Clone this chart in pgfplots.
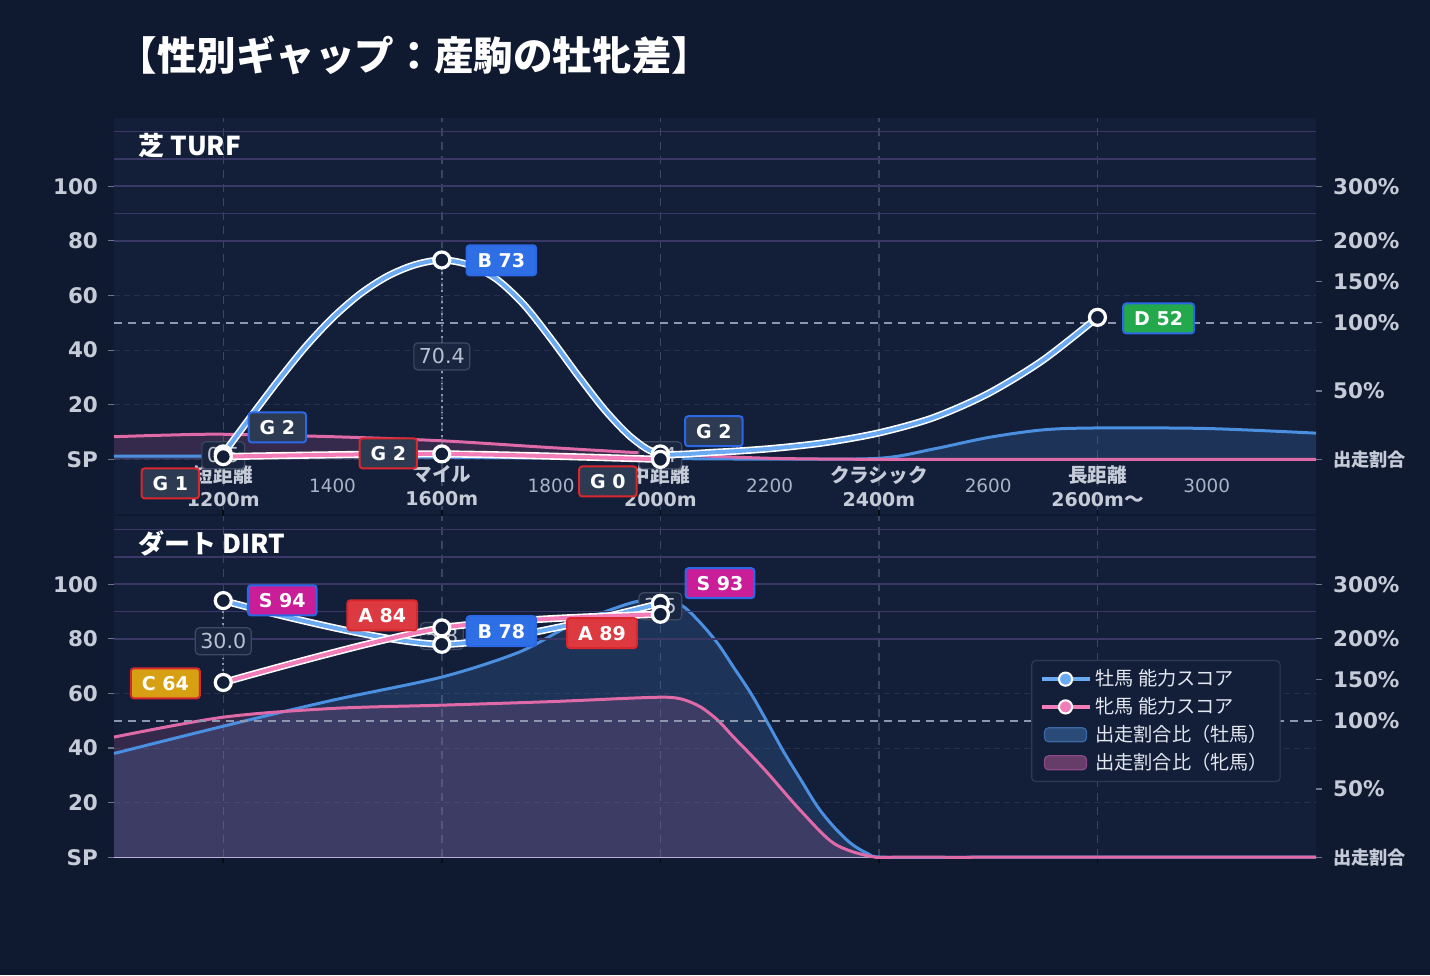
\documentclass[border=0pt]{standalone}
\usepackage{pgfplots}
\pgfplotsset{compat=1.18}
\usepackage{fontspec}
\setmainfont{Noto Sans CJK JP}
\newfontfamily\dv{DejaVu Sans}

\definecolor{pagebg}{HTML}{0F1930}
\definecolor{panelbg}{HTML}{131E39}
\definecolor{gridc}{HTML}{25314B}
\definecolor{purp}{HTML}{3A3866}
\definecolor{vgrid}{HTML}{3A4660}
\definecolor{dashc}{HTML}{8C96AC}
\definecolor{tickc}{HTML}{C5CCD8}
\definecolor{xlabc}{HTML}{AAB4C6}
\definecolor{tickm}{HTML}{6B768C}
\definecolor{mline}{HTML}{4A8FE0}
\definecolor{fline}{HTML}{E06AA8}
\definecolor{mscore}{HTML}{6AAAF2}
\definecolor{fscore}{HTML}{F27DB8}
\definecolor{mborder}{HTML}{2B68E6}
\definecolor{fborder}{HTML}{D8282E}
\definecolor{rS}{HTML}{C91E98}
\definecolor{rA}{HTML}{DC3A40}
\definecolor{rB}{HTML}{2F6FE6}
\definecolor{rC}{HTML}{D6A012}
\definecolor{rD}{HTML}{23A84C}
\definecolor{rG}{HTML}{2C3A52}
\definecolor{gapfill}{HTML}{1A2640}
\definecolor{gapline}{HTML}{3E4A62}
\definecolor{gaptext}{HTML}{B8C1D2}
\definecolor{legline}{HTML}{2E3A52}
\definecolor{legtext}{HTML}{E2E7F0}
\definecolor{basec}{HTML}{B8B0D8}
\definecolor{connc}{HTML}{8C96AE}
\definecolor{legmfill}{HTML}{2A4A78}
\definecolor{legmline}{HTML}{3A68A8}
\definecolor{legffill}{HTML}{663C68}
\definecolor{legfline}{HTML}{8A4A8A}

\tikzset{
  rk/.style={draw=#1, line width=1pt, rounded corners=1.5pt, text=white,
    font=\dv\bfseries\fontsize{9.5}{11}\selectfont, inner xsep=5.5pt, inner ysep=0pt,
    minimum height=15pt},
  gap/.style={draw=gapline, fill=gapfill, rounded corners=2pt, line width=0.6pt,
    text=gaptext, font=\dv\fontsize{10.3}{12}\selectfont, inner xsep=2.5pt, inner ysep=0pt,
    minimum height=13.5pt},
  wline/.style={white, line width=3.6pt, smooth},
  mark ring/.style={only marks, mark=*, mark size=4pt,
    mark options={draw=white, fill=panelbg, line width=1.6pt}},
}

\pgfplotsset{
  panel/.style={
    scale only axis, width=601pt, xmin=1000, xmax=3200, ymax=125,
    axis background/.style={fill=panelbg},
    axis line style={draw=none},
    ytick={0,20,40,60,80,100}, yticklabels={SP,20,40,60,80,100},
    ytick pos=left, ymajorgrids,
    major grid style={gridc, line width=0.5pt, dash pattern=on 3pt off 2pt},
    tick align=outside, major tick length=3pt,
    tick style={tickm, line width=0.6pt},
    yticklabel style={font=\dv\bfseries\fontsize{10.75}{13}\selectfont, text=tickc, xshift=-1.5pt},
    clip=false,
  },
  rightax/.style={
    scale only axis, width=601pt, xmin=1000, xmax=3200, ymax=125,
    axis y line*=right, axis x line=none, axis line style={draw=none},
    ytick={0,25,50,65,80,100},
    yticklabels={{\rmfamily\bfseries\fontsize{9.1}{10}\selectfont 出走割合},50\%,100\%,150\%,200\%,300\%},
    tick align=outside, major tick length=3pt, tick style={tickm, line width=0.6pt},
    yticklabel style={font=\dv\bfseries\fontsize{10.75}{13}\selectfont, text=tickc, xshift=2pt},
  },
}

\begin{document}
\begin{tikzpicture}
\fill[pagebg] (0,0) rectangle (715pt,487.5pt);
\node[anchor=west, inner sep=0pt, text=white, font=\bfseries\fontsize{19.8}{22}\selectfont]
  at (58.5pt,460pt) {【性別ギャップ：産駒の牡牝差】};

% ---------------- 芝 TURF ----------------
\begin{axis}[panel, at={(57pt,428.5pt)}, anchor=north west, height=198pt, ymin=-20,
  xtick={1400,1800,2200,2600,3000}, xticklabels={1400,1800,2200,2600,3000},
  xtick style={draw=none},
  xticklabel style={anchor=center, yshift=17pt, font=\dv\fontsize{9.2}{12}\selectfont,
    text=xlabc, align=center},
  extra x ticks={1200,1600,2000,2400,2800},
  extra x tick labels={{短距離\\{\dv\fontsize{9.5}{12}\selectfont 1200m}},
    {マイル\\{\dv\fontsize{9.5}{12}\selectfont 1600m}},
    {中距離\\{\dv\fontsize{9.5}{12}\selectfont 2000m}},
    {クラシック\\{\dv\fontsize{9.5}{12}\selectfont 2400m}},
    {長距離\\{\dv\fontsize{9.5}{12}\selectfont 2600m}〜}},
  extra x tick style={grid=major, major grid style={vgrid, line width=0.7pt, dash pattern=on 4pt off 3pt},
    xtick style={draw=none},
    xticklabel style={font=\bfseries\fontsize{9.8}{12}\selectfont, text=tickc}},
]
% share ratio areas
\addplot[draw=none, fill=mline, fill opacity=0.19, smooth] coordinates {
  (1000,1.2)(1200,1.2)(1400,1.0)(1600,0.8)(1800,0.5)(2000,0.3)(2200,0.1)(2400,0.4)
  (2500,3.8)(2600,8)(2700,10.8)(2800,11.5)(3000,11.3)(3200,9.6)} \closedcycle;
\addplot[draw=none, fill=fline, fill opacity=0.17, smooth] coordinates {
  (1000,8.3)(1100,8.9)(1200,9.2)(1400,8.3)(1600,6.8)(1800,4.3)(2000,2)(2200,0.4)
  (2400,0)(2600,0)(2800,0)(3000,0)(3200,0)} \closedcycle;
\addplot[mline, line width=1.5pt, smooth] coordinates {
  (1000,1.2)(1200,1.2)(1400,1.0)(1600,0.8)(1800,0.5)(2000,0.3)(2200,0.1)(2400,0.4)
  (2500,3.8)(2600,8)(2700,10.8)(2800,11.5)(3000,11.3)(3200,9.6)};
\addplot[fline, line width=1.5pt, smooth] coordinates {
  (1000,8.3)(1100,8.9)(1200,9.2)(1400,8.3)(1600,6.8)(1800,4.3)(2000,2)(2200,0.4)
  (2400,0)(2600,0)(2800,0)(3000,0)(3200,0)};
% reference lines
\pgfplotsinvokeforeach{80,90,100,110,120}{
  \draw[purp, line width=0.8pt] (axis cs:1000,#1) -- (axis cs:3200,#1);
}
\draw[dashc, line width=0.8pt, dash pattern=on 4pt off 3pt] (axis cs:1000,50) -- (axis cs:3200,50);
\node[anchor=west, inner sep=0pt, text=white, font=\bfseries\fontsize{13}{15}\selectfont]
  at (axis cs:1044,115) {芝 TURF};
% gap connectors and boxes
\addplot[connc, line width=0.9pt, dotted] coordinates {(1600,2)(1600,73)};
\node[gap] at (axis cs:1200,1.5) {0.5};
\node[gap] at (axis cs:1600,37.7) {70.4};
\node[gap] at (axis cs:2000,1.5) {2.4};
% female score
\addplot[wline] coordinates {(1200,1)(1600,2)(2000,0)};
\addplot[fscore, line width=2pt, smooth] coordinates {(1200,1)(1600,2)(2000,0)};
% male score
\addplot[wline] coordinates {
  (1200,2)(1250,15.5)(1300,28.7)(1350,41.1)(1400,51.8)(1450,60.5)(1500,67)(1550,71.2)
  (1600,73)(1650,71.2)(1700,66)(1750,56.7)(1800,44.1)(1850,30.5)(1900,17.7)(1950,7.5)
  (2000,2)(2100,2.6)(2200,3.9)(2300,6.1)(2400,9.7)(2500,15.3)(2600,24.1)(2700,36.3)(2800,52)};
\addplot[mscore, line width=2pt, smooth] coordinates {
  (1200,2)(1250,15.5)(1300,28.7)(1350,41.1)(1400,51.8)(1450,60.5)(1500,67)(1550,71.2)
  (1600,73)(1650,71.2)(1700,66)(1750,56.7)(1800,44.1)(1850,30.5)(1900,17.7)(1950,7.5)
  (2000,2)(2100,2.6)(2200,3.9)(2300,6.1)(2400,9.7)(2500,15.3)(2600,24.1)(2700,36.3)(2800,52)};
\addplot[mark ring] coordinates {(1200,2)(1600,73)(2000,2)(2800,52)};
\addplot[mark ring] coordinates {(1200,1)(1600,2)(2000,0)};
% rank labels
\node[rk=mborder, fill=rG] at (axis cs:1299,11.7) {G 2};
\node[rk=fborder, fill=rG] at (axis cs:1103,-8.8) {G 1};
\node[rk=fborder, fill=rG] at (axis cs:1502,2.2) {G 2};
\node[rk=mborder, fill=rB] at (axis cs:1709,72.9) {B 73};
\node[rk=mborder, fill=rG] at (axis cs:2098,10.3) {G 2};
\node[rk=fborder, fill=rG] at (axis cs:1904,-8.1) {G 0};
\node[rk=mborder, fill=rD] at (axis cs:2912,51.6) {D 52};
\end{axis}
\begin{axis}[rightax, at={(57pt,428.5pt)}, anchor=north west, height=198pt, ymin=-20]
\end{axis}

% ---------------- ダート DIRT ----------------
\begin{axis}[panel, at={(57pt,229.5pt)}, anchor=north west, height=170.6pt, ymin=0,
  xtick=\empty,
  extra x ticks={1200,1600,2000,2400,2800}, extra x tick labels={},
  extra x tick style={grid=major, major grid style={vgrid, line width=0.7pt, dash pattern=on 4pt off 3pt},
    tick style={black!60!pagebg, line width=0.8pt}},
  legend style={at={(0.763,0.578)}, anchor=north west, fill=panelbg, draw=legline,
    line width=0.6pt, text=legtext, font=\fontsize{9.6}{11}\selectfont,
    rounded corners=2pt, inner xsep=4pt, inner ysep=2.5pt, row sep=0.3pt},
  legend cell align=left,
]
\addlegendimage{legend image code/.code={
  \draw[mscore, line width=1.8pt] (0pt,0pt) -- (24pt,0pt);
  \filldraw[fill=mscore, draw=white, line width=1pt] (12pt,0pt) circle (3.3pt);}}
\addlegendentry{牡馬 能力スコア}
\addlegendimage{legend image code/.code={
  \draw[fscore, line width=1.8pt] (0pt,0pt) -- (24pt,0pt);
  \filldraw[fill=fscore, draw=white, line width=1pt] (12pt,0pt) circle (3.3pt);}}
\addlegendentry{牝馬 能力スコア}
\addlegendimage{legend image code/.code={
  \filldraw[fill=legmfill, draw=legmline, line width=0.6pt] (1.5pt,-3.5pt) rectangle (22.5pt,3.5pt);}}
\addlegendentry{出走割合比（牡馬）}
\addlegendimage{legend image code/.code={
  \filldraw[fill=legffill, draw=legfline, line width=0.6pt] (1.5pt,-3.5pt) rectangle (22.5pt,3.5pt);}}
\addlegendentry{出走割合比（牝馬）}
% share ratio areas
\addplot[forget plot, draw=none, fill=mline, fill opacity=0.19, smooth] coordinates {
  (1000,38)(1200,48)(1400,57.5)(1600,66)(1740,75)(1830,84.4)(1900,90)(1960,93.8)
  (2014,94)(2043,91.7)(2074,85.7)(2105,78.3)(2134,69.6)(2166,59.9)(2197,49)(2226,38.5)
  (2257,28.4)(2288,18.4)(2318,11)(2349,5)(2380,1.3)(2410,0)
  (2600,0)(2800,0)(3000,0)(3200,0)} \closedcycle;
\addplot[forget plot, draw=none, fill=fline, fill opacity=0.17, smooth] coordinates {
  (1000,44)(1200,51.3)(1400,54.5)(1600,55.7)(1800,57)(1950,58.3)(2013,58.6)(2043,57.7)
  (2074,55)(2105,50.2)(2134,44)(2166,37.4)(2197,30.7)(2257,17)(2318,5)(2385,0.3)
  (2450,0)(2800,0)(3200,0)} \closedcycle;
\addplot[forget plot, mline, line width=1.5pt, smooth] coordinates {
  (1000,38)(1200,48)(1400,57.5)(1600,66)(1740,75)(1830,84.4)(1900,90)(1960,93.8)
  (2014,94)(2043,91.7)(2074,85.7)(2105,78.3)(2134,69.6)(2166,59.9)(2197,49)(2226,38.5)
  (2257,28.4)(2288,18.4)(2318,11)(2349,5)(2380,1.3)(2410,0)
  (2600,0)(2800,0)(3000,0)(3200,0)};
\draw[basec, line width=0.6pt] (axis cs:1000,0) -- (axis cs:3200,0);
\addplot[forget plot, fline, line width=1.5pt, smooth] coordinates {
  (1000,44)(1200,51.3)(1400,54.5)(1600,55.7)(1800,57)(1950,58.3)(2013,58.6)(2043,57.7)
  (2074,55)(2105,50.2)(2134,44)(2166,37.4)(2197,30.7)(2257,17)(2318,5)(2385,0.3)
  (2450,0)(2800,0)(3200,0)};
% reference lines
\pgfplotsinvokeforeach{80,90,100,110,120}{
  \draw[purp, line width=0.8pt] (axis cs:1000,#1) -- (axis cs:3200,#1);
}
\draw[dashc, line width=0.8pt, dash pattern=on 4pt off 3pt] (axis cs:1000,50) -- (axis cs:3200,50);
\node[anchor=west, inner sep=0pt, text=white, font=\bfseries\fontsize{13}{15}\selectfont]
  at (axis cs:1044,115) {ダート DIRT};
% gap connectors and boxes
\addplot[forget plot, connc, line width=0.9pt, dotted] coordinates {(1200,64)(1200,94)};
\node[gap] at (axis cs:1200,79.1) {30.0};
\node[gap] at (axis cs:1600,81) {5.8};
\node[gap] at (axis cs:2000,91.9) {3.5};
% scores
\addplot[forget plot, wline] coordinates {(1200,94)(1600,78)(2000,93)};
\addplot[forget plot, mscore, line width=2pt, smooth] coordinates {(1200,94)(1600,78)(2000,93)};
\addplot[forget plot, wline] coordinates {(1200,64)(1600,84)(2000,89)};
\addplot[forget plot, fscore, line width=2pt, smooth] coordinates {(1200,64)(1600,84)(2000,89)};
\addplot[forget plot, mark ring] coordinates {(1200,94)(1600,78)(2000,93)};
\addplot[forget plot, mark ring] coordinates {(1200,64)(1600,84)(2000,89)};
% rank labels
\node[rk=mborder, fill=rS] at (axis cs:1308,94.1) {S 94};
\node[rk=fborder, fill=rC] at (axis cs:1094,63.7) {C 64};
\node[rk=fborder, fill=rA] at (axis cs:1491,88.6) {A 84};
\node[rk=mborder, fill=rB] at (axis cs:1709,82.8) {B 78};
\node[rk=fborder, fill=rA] at (axis cs:1893,82.1) {A 89};
\node[rk=mborder, fill=rS] at (axis cs:2109,100.4) {S 93};
\end{axis}
\begin{axis}[rightax, at={(57pt,229.5pt)}, anchor=north west, height=170.6pt, ymin=0]
\end{axis}

\pgfresetboundingbox
\useasboundingbox (0,0) rectangle (715pt,487.5pt);
\end{tikzpicture}
\end{document}
